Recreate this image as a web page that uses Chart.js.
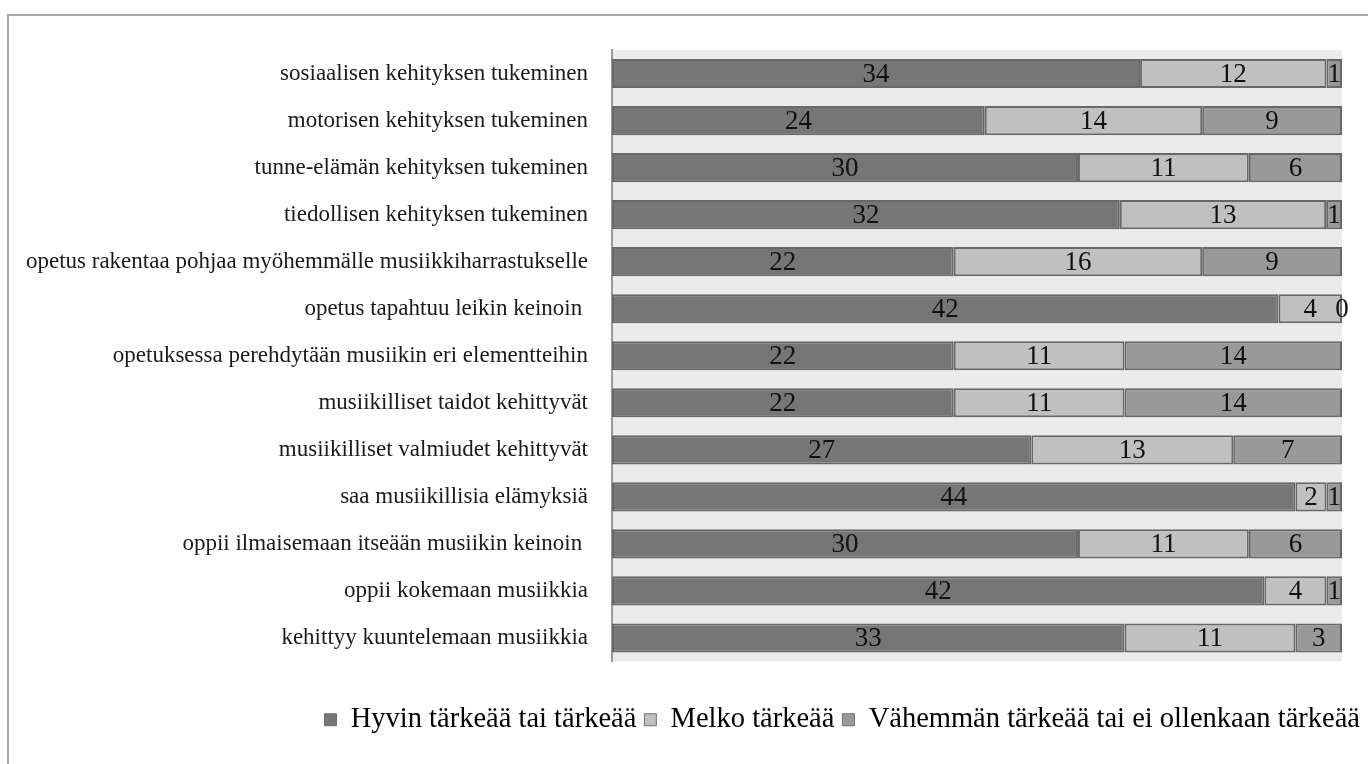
<!DOCTYPE html>
<html>
<head>
<meta charset="utf-8">
<script src="https://cdn.jsdelivr.net/npm/chart.js@4.4.1/dist/chart.umd.min.js"></script>
<style>
  html, body { margin: 0; padding: 0; background: #fff; }
  #wrap { width: 1368px; height: 764px; position: relative; }
</style>
</head>
<body>
<div id="wrap"><canvas id="chart"></canvas></div>
<script>
const categories = [
  "sosiaalisen kehityksen tukeminen",
  "motorisen kehityksen tukeminen",
  "tunne-elämän kehityksen tukeminen",
  "tiedollisen kehityksen tukeminen",
  "opetus rakentaa pohjaa myöhemmälle musiikkiharrastukselle",
  "opetus tapahtuu leikin keinoin ",
  "opetuksessa perehdytään musiikin eri elementteihin",
  "musiikilliset taidot kehittyvät",
  "musiikilliset valmiudet kehittyvät",
  "saa musiikillisia elämyksiä",
  "oppii ilmaisemaan itseään musiikin keinoin ",
  "oppii kokemaan musiikkia",
  "kehittyy kuuntelemaan musiikkia"
];

const seriesNames = [
  "Hyvin tärkeää tai tärkeää",
  "Melko tärkeää",
  "Vähemmän tärkeää tai ei ollenkaan tärkeää"
];

const veryImportant = [34, 24, 30, 32, 22, 42, 22, 22, 27, 44, 30, 42, 33];
const fairlyImportant = [12, 14, 11, 13, 16, 4, 11, 11, 13, 2, 11, 4, 11];
const lessImportant = [1, 9, 6, 1, 9, 0, 14, 14, 7, 1, 6, 1, 3];

const seriesColors = ["#767676", "#c0c0c0", "#999999"];

const counts = [veryImportant, fairlyImportant, lessImportant];
const totals = categories.map((_, i) => counts.reduce((sum, arr) => sum + arr[i], 0));

const serif = "'Liberation Serif', 'DejaVu Serif', serif";

const frameAndBackground = {
  id: "frameAndBackground",
  beforeDraw(chart) {
    const { ctx, chartArea } = chart;
    ctx.save();
    ctx.fillStyle = "#ebebeb";
    ctx.fillRect(chartArea.left, chartArea.top, chartArea.right - chartArea.left, chartArea.bottom - chartArea.top);
    ctx.strokeStyle = "#a8a8a8";
    ctx.lineWidth = 2;
    ctx.beginPath();
    ctx.moveTo(8, 764);
    ctx.lineTo(8, 15);
    ctx.lineTo(1368, 15);
    ctx.stroke();
    ctx.restore();
  }
};

const valueLabels = {
  id: "valueLabels",
  afterDatasetsDraw(chart) {
    const { ctx } = chart;
    ctx.save();
    ctx.font = "27px " + serif;
    ctx.fillStyle = "#111";
    ctx.textAlign = "center";
    ctx.textBaseline = "middle";
    chart.data.datasets.forEach((ds, i) => {
      chart.getDatasetMeta(i).data.forEach((bar, j) => {
        const cx = (bar.x + bar.base) / 2;
        ctx.fillText(String(counts[i][j]), cx, bar.y + 1);
      });
    });
    ctx.restore();
  }
};

new Chart(document.getElementById("chart"), {
  type: "bar",
  data: {
    labels: categories,
    datasets: counts.map((arr, i) => ({
      label: seriesNames[i],
      data: arr.map((v, j) => (v / totals[j]) * 100),
      backgroundColor: seriesColors[i],
      borderColor: "#686868",
      borderWidth: 2,
      borderSkipped: false,
      categoryPercentage: 1,
      barPercentage: 0.62
    }))
  },
  options: {
    indexAxis: "y",
    animation: false,
    responsive: true,
    maintainAspectRatio: false,
    devicePixelRatio: 1,
    layout: {
      padding: { top: 50, left: 0, right: 0, bottom: 20 }
    },
    plugins: {
      legend: {
        position: "bottom",
        align: "end",
        labels: {
          color: "#111",
          font: { family: serif, size: 28.5 },
          boxWidth: 12,
          boxHeight: 12,
          padding: 8,
          generateLabels(chart) {
            return chart.data.datasets.map((ds, i) => ({
              text: ds.label,
              fillStyle: ds.backgroundColor,
              strokeStyle: "#6e6e6e",
              lineWidth: 1,
              datasetIndex: i
            }));
          }
        }
      },
      tooltip: { enabled: false }
    },
    scales: {
      x: {
        stacked: true,
        min: 0,
        max: 100,
        display: true,
        grid: { display: false, drawTicks: false },
        ticks: { display: false },
        border: { display: false },
        afterFit(scale) { scale.height = 36; }
      },
      y: {
        stacked: true,
        grid: { display: false, drawTicks: false },
        border: { display: true, color: "#9a9a9a", width: 2 },
        ticks: {
          color: "#1a1a1a",
          font: { family: serif, size: 23 },
          padding: 24
        },
        afterFit(scale) { scale.width = 612; }
      },
      yRight: {
        type: "linear",
        position: "right",
        display: true,
        grid: { display: false, drawTicks: false },
        ticks: { display: false },
        border: { display: false },
        afterFit(scale) { scale.width = 26; }
      }
    }
  },
  plugins: [frameAndBackground, valueLabels]
});
</script>
</body>
</html>
